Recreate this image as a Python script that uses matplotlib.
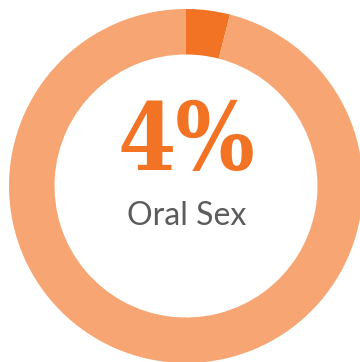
import matplotlib.pyplot as plt

# share of respondents for the highlighted behaviour
category = "Oral Sex"
shares = [4, 96]
colors = ["#F37324", "#F7A673"]

fig = plt.figure(figsize=(3.6, 3.62), dpi=100)
ax = fig.add_axes([0, 0, 1, 1])

# ring drawn in pixel units so it can run off the right edge
ax.pie(shares, colors=colors, startangle=90, counterclock=False,
       center=(186, 176), radius=177,
       wedgeprops=dict(width=45.5, linewidth=0))
ax.set_xlim(0, 360)
ax.set_ylim(0, 362)
ax.set_aspect("equal")
ax.axis("off")

ax.text(186, 218, f"{shares[0]}%", ha="center", va="center",
        fontsize=67, fontweight="bold", family="DejaVu Serif",
        fontstretch="condensed", color=colors[0])
ax.text(187, 146, category, ha="center", va="center",
        fontsize=23, family="Lato", color="#5B5B5B")

fig.savefig("out.png", dpi=100)
